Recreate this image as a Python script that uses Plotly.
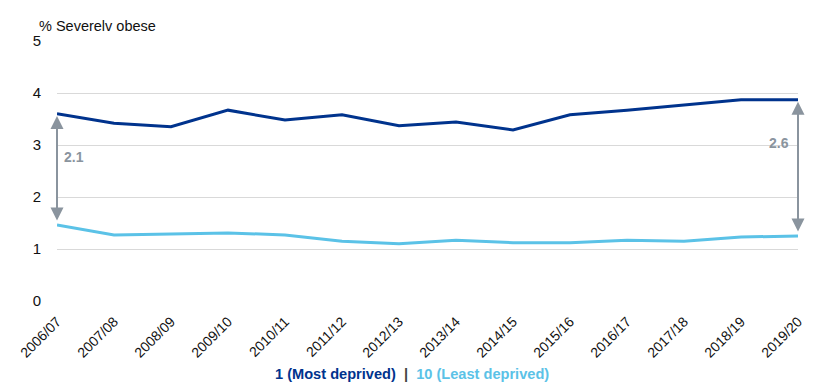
import plotly.graph_objects as go

years = ["2006/07", "2007/08", "2008/09", "2009/10", "2010/11", "2011/12", "2012/13",
         "2013/14", "2014/15", "2015/16", "2016/17", "2017/18", "2018/19", "2019/20"]
most_deprived = [3.60, 3.42, 3.35, 3.67, 3.48, 3.58, 3.37, 3.44, 3.29, 3.58, 3.67, 3.77, 3.87, 3.87]
least_deprived = [1.46, 1.27, 1.29, 1.31, 1.27, 1.15, 1.10, 1.17, 1.12, 1.12, 1.17, 1.15, 1.23, 1.25]
y_ticks = [0, 1, 2, 3, 4, 5]

DARK = "#00338d"
LIGHT = "#5bc2e7"
GREY = "#8a949e"
FONT = "Liberation Sans, Arial, sans-serif"

fig = go.Figure()
fig.add_trace(go.Scatter(x=years, y=most_deprived, mode="lines",
                         line=dict(color=DARK, width=3), name="1 (Most deprived)"))
fig.add_trace(go.Scatter(x=years, y=least_deprived, mode="lines",
                         line=dict(color=LIGHT, width=3), name="10 (Least deprived)"))

annotations = []
for idx, side in [(0, 1), (len(years) - 1, -1)]:
    top = most_deprived[idx] - 0.04
    bot = least_deprived[idx] + 0.06
    annotations.append(dict(x=idx, y=top, ax=idx, ay=bot, xref="x", yref="y",
                            axref="x", ayref="y", showarrow=True, arrowhead=2,
                            startarrowhead=2, arrowside="end+start", arrowsize=1.3,
                            startarrowsize=1.3, arrowwidth=2, arrowcolor=GREY, text=""))
    diff = round(most_deprived[idx] - least_deprived[idx], 1)
    annotations.append(dict(x=idx, y=most_deprived[idx] - 0.83, xref="x", yref="y",
                            text=f"<b>{diff}</b>", showarrow=False,
                            xanchor="left" if side > 0 else "right",
                            xshift=5 if side > 0 else -7,
                            font=dict(family=FONT, size=14, color=GREY)))

annotations.append(dict(x=0.479, y=-0.28, xref="paper", yref="paper", showarrow=False,
                        xanchor="center", yanchor="middle",
                        text=(f"<b><span style='color:{DARK}'>1 (Most deprived)</span>"
                              f"<span style='color:#444444'>  |  </span>"
                              f"<span style='color:{LIGHT}'>10 (Least deprived)</span></b>"),
                        font=dict(family=FONT, size=14.6)))
annotations.append(dict(x=-0.027, y=1.0, xref="paper", yref="paper", showarrow=False,
                        xanchor="left", yanchor="bottom", yshift=5,
                        text="% Severelv obese", font=dict(family=FONT, size=14.5, color="#111111")))

fig.update_layout(
    width=827, height=385,
    margin=dict(l=57, r=29, t=41, b=84),
    paper_bgcolor="white", plot_bgcolor="white",
    showlegend=False,
    font=dict(family=FONT, size=14, color="#111111"),
    annotations=annotations,
    xaxis=dict(type="category", range=[0, len(years) - 1], showgrid=False, zeroline=False,
               showline=False, tickangle=-45, tickfont=dict(size=14),
               ticks="outside", ticklen=6, tickcolor="rgba(0,0,0,0)"),
    yaxis=dict(range=[0, 5], tickvals=y_ticks, showgrid=True, gridcolor="#d9d9d9",
               gridwidth=1, zeroline=False, showline=False, tickfont=dict(size=15),
               ticks="outside", ticklen=12, tickcolor="rgba(0,0,0,0)"),
)

fig.write_html("out.html")
